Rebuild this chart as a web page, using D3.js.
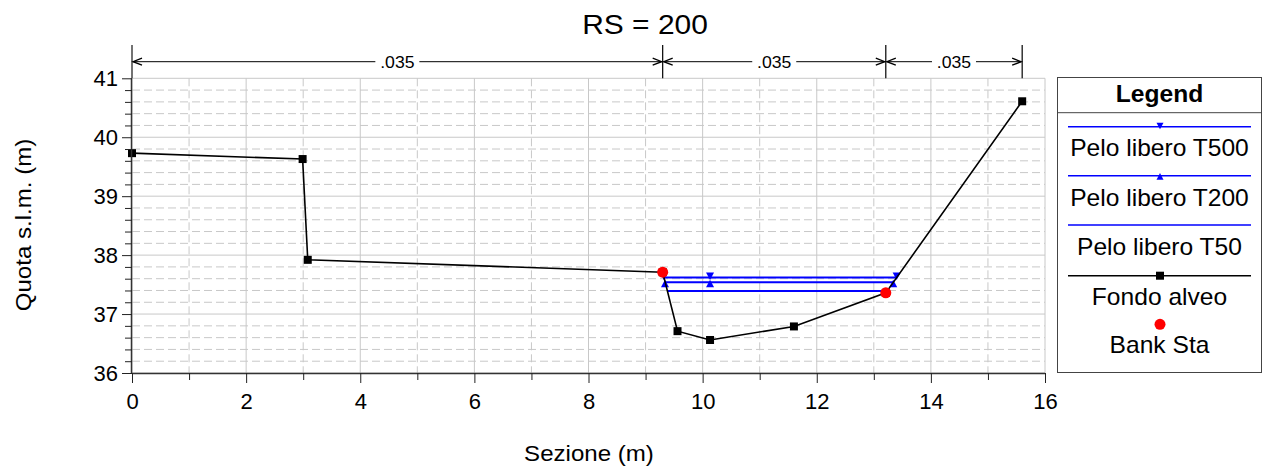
<!DOCTYPE html>
<html>
<head>
<meta charset="utf-8">
<script src="https://cdn.jsdelivr.net/npm/d3@7"></script>
<style>
  html, body { margin: 0; padding: 0; background: #fff; }
  svg { display: block; font-family: "Liberation Sans", Arial, sans-serif; }
</style>
</head>
<body>
<svg id="chart" width="1264" height="466"></svg>
<script>
// ---------- data ----------
const title = "RS = 200";
const xLabel = "Sezione (m)";
const yLabel = "Quota s.l.m. (m)";

const groundX = [0, 2.99, 3.08, 9.30, 9.56, 10.13, 11.60, 13.21, 15.60];
const groundY = [39.73, 39.63, 37.92, 37.71, 36.71, 36.56, 36.79, 37.36, 40.61];

const bankX = [9.30, 13.21];
const bankY = [37.71, 37.36];

const t500X = [9.32, 10.13, 13.40];
const t500Y = [37.62, 37.62, 37.62];
const t200X = [9.34, 10.13, 13.34];
const t200Y = [37.54, 37.54, 37.54];
const t50X = [9.38, 13.23];
const t50Y = [37.39, 37.39];

const nBounds = [0, 9.30, 13.21, 15.60];
const nValues = [".035", ".035", ".035"];

const xMajorTicks = [0, 2, 4, 6, 8, 10, 12, 14, 16];
const xMinorTicks = [1, 3, 5, 7, 9, 11, 13, 15];
const yMajorTicks = [36, 37, 38, 39, 40, 41];
const yMinorTicks = [36.2, 36.4, 36.6, 36.8, 37.2, 37.4, 37.6, 37.8, 38.2, 38.4, 38.6, 38.8,
                     39.2, 39.4, 39.6, 39.8, 40.2, 40.4, 40.6, 40.8];

const legendItems = ["Pelo libero T500", "Pelo libero T200", "Pelo libero T50", "Fondo alveo", "Bank Sta"];

// ---------- layout ----------
const svg = d3.select("#chart");
const pL = 132, pR = 1045, pT = 78.3, pB = 373;
const x = d3.scaleLinear().domain([0, 16]).range([pL, pR]);
const y = d3.scaleLinear().domain([36, 41]).range([pB, pT]);
const gridCol = "#c8c8c8";

// helper: draw text slightly widened, like the reference rendering
function wideText(sel, cx, cy, str, size, opts = {}) {
  const t = sel.append("text").attr("text-anchor", "middle").attr("font-size", size)
    .attr("transform", `translate(${cx},${cy})${opts.rotate ? " rotate(" + opts.rotate + ")" : ""} scale(1.07,1)`)
    .text(str);
  if (opts.bold) t.attr("font-weight", "bold");
  return t;
}

// grid
const grid = svg.append("g");
grid.selectAll(".vmaj").data(xMajorTicks).enter().append("line")
  .attr("x1", d => x(d)).attr("x2", d => x(d)).attr("y1", pT).attr("y2", pB)
  .attr("stroke", gridCol).attr("stroke-width", 1);
grid.selectAll(".vmin").data(xMinorTicks).enter().append("line")
  .attr("x1", d => x(d)).attr("x2", d => x(d)).attr("y1", pT).attr("y2", pB)
  .attr("stroke", gridCol).attr("stroke-width", 1).attr("stroke-dasharray", "8,4");
grid.selectAll(".hmaj").data(yMajorTicks).enter().append("line")
  .attr("x1", pL).attr("x2", pR).attr("y1", d => y(d)).attr("y2", d => y(d))
  .attr("stroke", gridCol).attr("stroke-width", 1);
grid.selectAll(".hmin").data(yMinorTicks).enter().append("line")
  .attr("x1", pL).attr("x2", pR).attr("y1", d => y(d)).attr("y2", d => y(d))
  .attr("stroke", gridCol).attr("stroke-width", 1).attr("stroke-dasharray", "8,4");

// title
wideText(svg, 645, 34, title, 28);

// Manning's n dimension lines
const dimY = 61.7;
const dim = svg.append("g");
nBounds.forEach(b => {
  dim.append("line").attr("x1", x(b)).attr("x2", x(b)).attr("y1", 45).attr("y2", pT)
    .attr("stroke", b === 0 ? "#444" : "#000").attr("stroke-width", b === 0 ? 1.5 : 1.2);
});
function arrowHead(px, dir) {
  const l = 9, w = 3.5;
  return `M${px - dir * l},${dimY - w} L${px},${dimY} L${px - dir * l},${dimY + w}`;
}
nValues.forEach((v, i) => {
  const x0 = x(nBounds[i]) + 1, x1 = x(nBounds[i + 1]) - 1;
  const mid = (x(nBounds[i]) + x(nBounds[i + 1])) / 2;
  dim.append("line").attr("x1", x0).attr("x2", x1).attr("y1", dimY).attr("y2", dimY)
    .attr("stroke", "#000").attr("stroke-width", 1);
  dim.append("path").attr("d", arrowHead(x0, -1)).attr("fill", "none").attr("stroke", "#000").attr("stroke-width", 1.3);
  dim.append("path").attr("d", arrowHead(x1, 1)).attr("fill", "none").attr("stroke", "#000").attr("stroke-width", 1.3);
  dim.append("rect").attr("x", mid - 22).attr("y", dimY - 2).attr("width", 44).attr("height", 4).attr("fill", "#fff");
  wideText(dim, mid, dimY + 6, v, 16.5);
});

// water surfaces
const line = d3.line().x(d => x(d[0])).y(d => y(d[1]));
const blue = "#0000ff";
const wsSeries = [
  { xs: t500X, ys: t500Y, marker: "down" },
  { xs: t200X, ys: t200Y, marker: "up" },
  { xs: t50X, ys: t50Y, marker: null }
];
const triDown = (cx, cy, s) => `M${cx - s},${cy - s} L${cx + s},${cy - s} L${cx},${cy + s * 0.9} Z`;
const triUp = (cx, cy, s) => `M${cx - s},${cy + s} L${cx + s},${cy + s} L${cx},${cy - s * 0.9} Z`;
wsSeries.forEach(s => {
  const pts = s.xs.map((xv, i) => [xv, s.ys[i]]);
  svg.append("path").attr("d", line(pts)).attr("fill", "none").attr("stroke", blue).attr("stroke-width", 2);
});
wsSeries.forEach(s => {
  if (!s.marker) return;
  s.xs.forEach((xv, i) => {
    const cx = x(xv), cy = y(s.ys[i]);
    svg.append("path").attr("d", s.marker === "down" ? triDown(cx, cy - 1, 4) : triUp(cx, cy + 1, 4)).attr("fill", blue);
  });
});

// ground
const gpts = groundX.map((xv, i) => [xv, groundY[i]]);
svg.append("path").attr("d", line(gpts)).attr("fill", "none").attr("stroke", "#000").attr("stroke-width", 1.6);
svg.selectAll(".gm").data(gpts).enter().append("rect")
  .attr("x", d => x(d[0]) - 4).attr("y", d => y(d[1]) - 4).attr("width", 8).attr("height", 8).attr("fill", "#000");

// bank stations
svg.selectAll(".bk").data(bankX.map((xv, i) => [xv, bankY[i]])).enter().append("circle")
  .attr("cx", d => x(d[0])).attr("cy", d => y(d[1])).attr("r", 5.5).attr("fill", "#ff0000");

// axes
const xAxis = svg.append("g").attr("transform", `translate(0,${pB})`)
  .call(d3.axisBottom(x).tickValues(xMajorTicks).tickSize(10).tickPadding(10).tickFormat(d3.format("d")));
const xAxisMinor = svg.append("g").attr("transform", `translate(0,${pB})`)
  .call(d3.axisBottom(x).tickValues(xMinorTicks).tickSize(7).tickFormat(""));
const yAxis = svg.append("g").attr("transform", `translate(${pL},0)`)
  .call(d3.axisLeft(y).tickValues(yMajorTicks).tickSize(10).tickPadding(4).tickFormat(d3.format("d")));
const yAxisMinor = svg.append("g").attr("transform", `translate(${pL},0)`)
  .call(d3.axisLeft(y).tickValues(yMinorTicks).tickSize(7).tickFormat(""));
[xAxis, xAxisMinor, yAxis, yAxisMinor].forEach(g => {
  g.select(".domain").attr("stroke", "#333").attr("stroke-width", 1.5);
  g.selectAll(".tick line").attr("stroke", "#222").attr("stroke-width", 1);
  g.selectAll("text").attr("font-size", 22).attr("fill", "#000")
    .attr("font-family", "'Liberation Sans', Arial, sans-serif");
});
xAxis.select(".domain").attr("d", `M${pL},0.5H${pR}`);
xAxisMinor.select(".domain").remove();
yAxisMinor.select(".domain").remove();
yAxis.select(".domain").attr("d", `M-0.5,${pB}V${pT}`);

// axis titles
wideText(svg, 589, 461, xLabel, 22.5);
wideText(svg, 31, 225, yLabel, 22.5, { rotate: -90 });

// legend
const lg = svg.append("g");
const lx0 = 1057.5, lx1 = 1261.5, ly0 = 77.5, ly1 = 372.5;
lg.append("rect").attr("x", lx0).attr("y", ly0).attr("width", lx1 - lx0).attr("height", ly1 - ly0)
  .attr("fill", "#fff").attr("stroke", "#444").attr("stroke-width", 1);
lg.append("line").attr("x1", lx0).attr("x2", lx1).attr("y1", 112.7).attr("y2", 112.7).attr("stroke", "#444");
wideText(lg, 1159.5, 102, "Legend", 23, { bold: true });
const lineYs = [126.7, 175.7, 225, 275.7, 324.3];
const textYs = [156, 206, 255, 305, 353];
const lcx = 1160;
legendItems.forEach((name, i) => {
  const ly = lineYs[i];
  if (i < 3) {
    lg.append("line").attr("x1", 1068).attr("x2", 1251).attr("y1", ly).attr("y2", ly).attr("stroke", blue).attr("stroke-width", 1.6);
    if (i === 0) lg.append("path").attr("d", triDown(lcx, ly - 0.5, 3.5)).attr("fill", blue);
    if (i === 1) lg.append("path").attr("d", triUp(lcx, ly + 0.5, 3.5)).attr("fill", blue);
  } else if (i === 3) {
    lg.append("line").attr("x1", 1068).attr("x2", 1251).attr("y1", ly).attr("y2", ly).attr("stroke", "#000").attr("stroke-width", 1.6);
    lg.append("rect").attr("x", lcx - 4).attr("y", ly - 4).attr("width", 8).attr("height", 8).attr("fill", "#000");
  } else {
    lg.append("circle").attr("cx", lcx).attr("cy", ly).attr("r", 5.5).attr("fill", "#ff0000");
  }
  wideText(lg, 1159.5, textYs[i], name, 23);
});
</script>
</body>
</html>
